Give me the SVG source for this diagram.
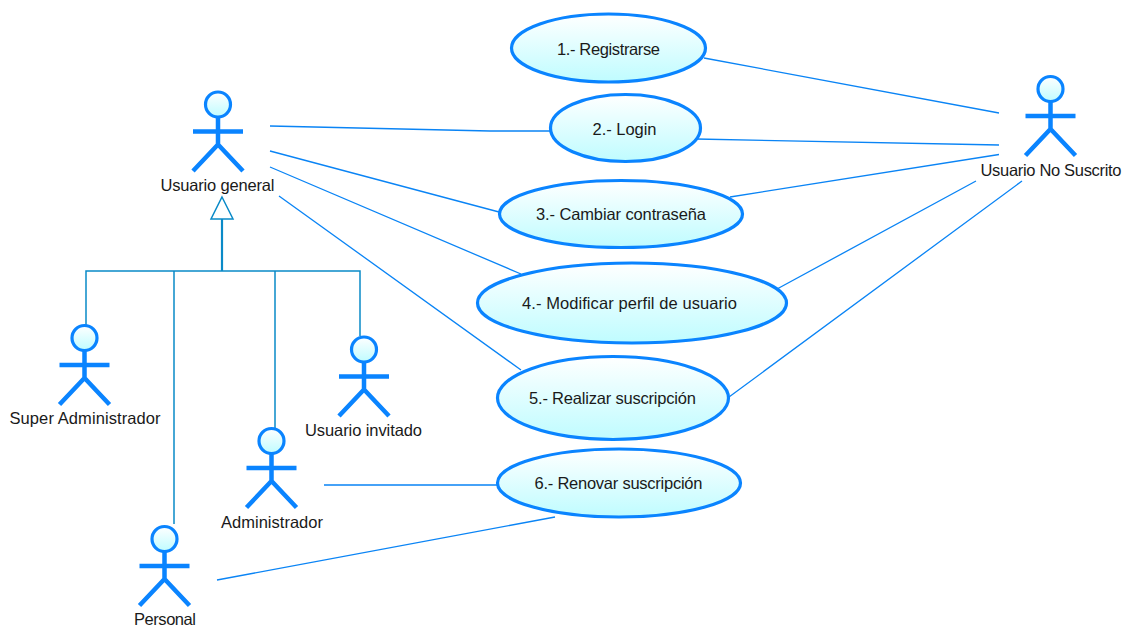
<svg xmlns="http://www.w3.org/2000/svg" width="1124" height="626" viewBox="0 0 1124 626">
<style>
text{font-family:"Liberation Sans",Arial,sans-serif;font-size:16.500px;fill:#1a1a1a;text-anchor:middle}
.uc{fill:url(#g);stroke:#0a84ff;stroke-width:3.200}
.a{stroke:#0a84ff;stroke-width:4.500;fill:none}
.h{fill:url(#g);stroke:#0a84ff;stroke-width:3.200}
.c{stroke:#0a84f5;stroke-width:1.300;fill:none}
.e{stroke:#0a8ac8;stroke-width:1.500;fill:none}
</style>
<defs>
<linearGradient id="g" x1="0" y1="0" x2="0" y2="1"><stop offset="0" stop-color="#fff"/><stop offset="1" stop-color="#bffcff"/></linearGradient>
<g id="actor"><path class="a" d="M0 13V40M-25 27H25M-25 66.500L0 40L25 66.500"/><circle class="h" r="12.500"/></g>
</defs>
<rect width="1124" height="626" fill="#fff"/>
<g id="connectors">
<path class="c" d="M270 126L490 131H551M270 151L499 212M270 167L521 274M279 196L521 370M704 58L999 113M696 139L999 145M730 197L999 154.500M777 289L976 181M729 397L1022 181M324 485H498M217 580L555 517"/>
<path class="e" d="M86 326V271H360V336M174 524V271M275 271V428"/>
<path class="e" style="stroke-width:2.200" d="M222 271V219"/>
<path d="M222 197L233 219H211Z" fill="#fff" stroke="#0a8ac8" stroke-width="1.500"/>
</g>
<g id="uc1"><ellipse class="uc" cx="608.500" cy="48" rx="97" ry="34"/><text x="608.500" y="55" textLength="103">1.- Registrarse</text></g>
<g id="uc2"><ellipse class="uc" cx="625.500" cy="128" rx="75" ry="33.500"/><text x="624.500" y="135" textLength="64">2.- Login</text></g>
<g id="uc3"><ellipse class="uc" cx="621" cy="214" rx="121.500" ry="33.500"/><text x="621" y="220" textLength="170">3.- Cambiar contraseña</text></g>
<g id="uc4"><ellipse class="uc" cx="632" cy="303" rx="154.500" ry="40"/><text x="629.500" y="309" textLength="215">4.- Modificar perfil de usuario</text></g>
<g id="uc5"><ellipse class="uc" cx="613" cy="398" rx="115.500" ry="41.500"/><text x="612.500" y="404" textLength="167">5.- Realizar suscripción</text></g>
<g id="uc6"><ellipse class="uc" cx="619" cy="483" rx="121.500" ry="34"/><text x="618.500" y="489" textLength="168">6.- Renovar suscripción</text></g>
<g id="general"><use href="#actor" x="218" y="104.500"/><text x="217.500" y="191" textLength="114">Usuario general</text></g>
<g id="nosuscrito"><use href="#actor" x="1050.500" y="89"/><text x="1051" y="176" textLength="141">Usuario No Suscrito</text></g>
<g id="super"><use href="#actor" x="84.500" y="338"/><text x="85" y="424" textLength="151">Super Administrador</text></g>
<g id="invitado"><use href="#actor" x="364" y="349.500"/><text x="363.500" y="436" textLength="117">Usuario invitado</text></g>
<g id="admin"><use href="#actor" x="271.500" y="441"/><text x="272" y="528" textLength="102">Administrador</text></g>
<g id="personal"><use href="#actor" x="164.500" y="539"/><text x="165" y="625" textLength="62">Personal</text></g>
</svg>
